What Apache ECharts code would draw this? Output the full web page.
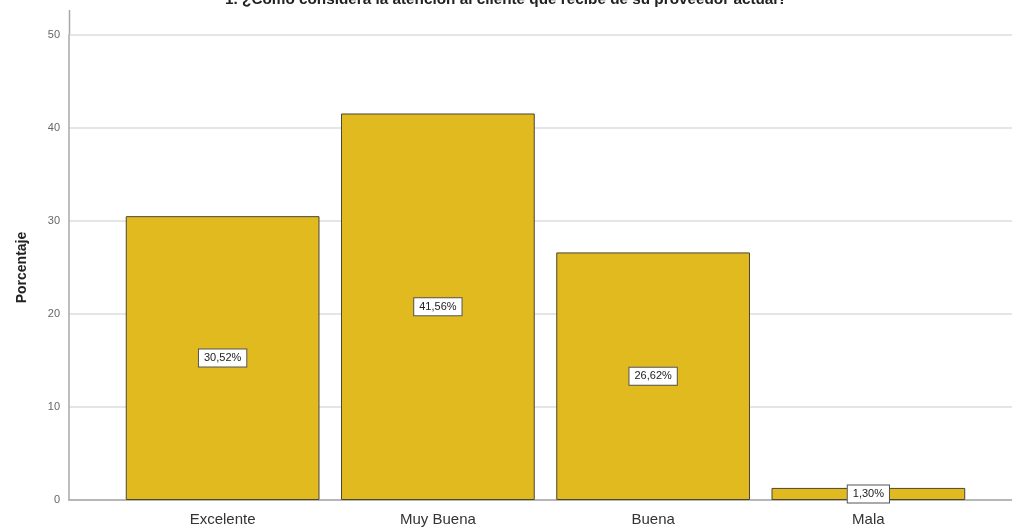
<!DOCTYPE html>
<html>
<head>
<meta charset="utf-8">
<script src="https://cdn.jsdelivr.net/npm/echarts@6/dist/echarts.min.js"></script>
<style>html,body{margin:0;padding:0;background:#fff}#c{width:1012px;height:527px}</style>
</head>
<body>
<div id="c"></div>
<script>
const titleText = '1. ¿Cómo considera la atención al cliente que recibe de su proveedor actual?';
const categories = ['Excelente', 'Muy Buena', 'Buena', 'Mala'];
const values = [30.52, 41.56, 26.62, 1.30];
const yTicks = [0, 10, 20, 30, 40, 50];
const yName = 'Porcentaje';

const chart = echarts.init(document.getElementById('c'), null, {renderer: 'canvas'});
const font = 'Liberation Sans, Arial, sans-serif';
chart.setOption({
  animation: false,
  backgroundColor: '#ffffff',
  title: {
    text: titleText, left: 'center', top: -13,
    textStyle: {fontFamily: font, fontSize: 15.3, fontWeight: 'bold', color: '#222'}
  },
  graphic: [{
    type: 'line', shape: {x1: 69.5, y1: 10, x2: 69.5, y2: 35},
    style: {stroke: '#a8a8a8', lineWidth: 1.5}, silent: true
  }],
  grid: [
    {left: 69, right: 0, top: 35, bottom: 27},
    {left: 115, right: 36, top: 35, bottom: 27}
  ],
  xAxis: [
    {gridIndex: 0, type: 'value', min: 0, max: 1,
     axisLine: {show: true, onZero: false, lineStyle: {color: '#a8a8a8', width: 1.5}},
     axisTick: {show: false}, axisLabel: {show: false}, splitLine: {show: false}},
    {gridIndex: 1, type: 'category', data: categories,
     axisLine: {show: false}, axisTick: {show: false},
     axisLabel: {fontFamily: font, fontSize: 15, color: '#333', margin: 12}}
  ],
  yAxis: [
    {gridIndex: 0, type: 'value', min: yTicks[0], max: yTicks[yTicks.length - 1], interval: 10,
     name: yName, nameLocation: 'middle', nameGap: 40,
     nameTextStyle: {fontFamily: font, fontSize: 14, fontWeight: 'bold', color: '#222'},
     axisLine: {show: true, lineStyle: {color: '#a8a8a8', width: 1.5}},
     axisTick: {show: false},
     axisLabel: {fontFamily: font, fontSize: 11, color: '#666', margin: 9},
     splitLine: {show: true, lineStyle: {color: '#dcdcdc', width: 1.5}}},
    {gridIndex: 1, type: 'value', min: yTicks[0], max: yTicks[yTicks.length - 1], show: false,
     splitLine: {show: false}}
  ],
  series: [{
    type: 'bar', xAxisIndex: 1, yAxisIndex: 1,
    data: values, barCategoryGap: '10%',
    itemStyle: {color: '#E0BA1E', borderColor: '#4a4535', borderWidth: 1},
    label: {
      show: true, position: 'inside',
      formatter: p => p.value.toFixed(2).replace('.', ',') + '%',
      fontFamily: font, fontSize: 11, color: '#222',
      backgroundColor: '#ffffff', borderColor: '#555', borderWidth: 1,
      padding: [3, 5]
    }
  }]
});
</script>
</body>
</html>
